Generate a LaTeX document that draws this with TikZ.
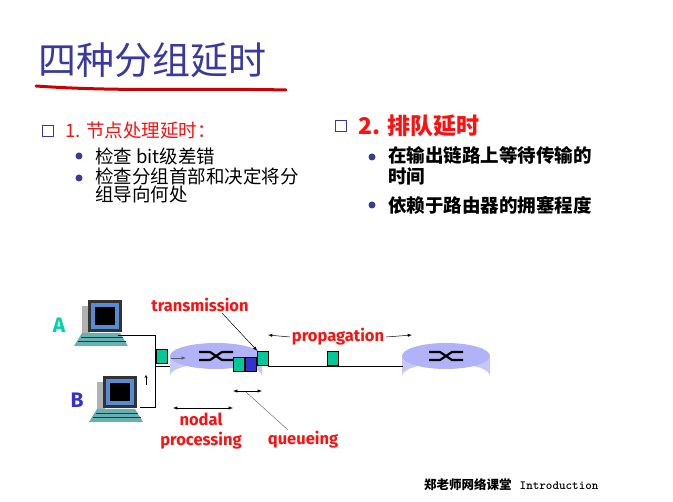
\documentclass[tikz,border=0pt]{standalone}
\usepackage{fontspec}
\setmainfont{Fira Sans}
\newfontfamily\cjk{Noto Sans CJK SC}
\definecolor{ttl}{HTML}{3A3A9E}
\definecolor{rt}{HTML}{C8C8F6}
\definecolor{pk}{HTML}{00C896}
\definecolor{pb}{HTML}{3333CC}
\definecolor{lab}{HTML}{FF1010}
\begin{document}
\begin{tikzpicture}[x=1pt,y=-1pt,
  lbl/.style={text=lab,font=\bfseries\fontsize{16.5}{18}\selectfont,inner sep=0},
  pkt/.style={draw=black,line width=0.4pt,fill=pk,minimum width=11,minimum height=14,inner sep=0},
  dot/.style={circle,fill=ttl,inner sep=0,minimum size=7},
  sq/.style={draw=ttl,line width=1.8pt,minimum size=11,inner sep=0},
  txt/.style={anchor=west,inner sep=0,font=\cjk\fontsize{18.5}{19}\selectfont},
  ar/.style={-latex,line width=0.5pt}]
\useasboundingbox (0,0) rectangle (673,502);
% title
\node[anchor=west,inner sep=0,text=ttl,font=\cjk\fontsize{38}{40}\selectfont] (title) at (38,60) {四种分组延时};
\draw[red!80!black,line width=3pt,line cap=round] (36,86) .. controls (120,92) and (200,88) .. (286,90);
% left column
\node[sq] (s1) at (48,131) {};
\node[txt,text=lab] (t1) at (65,131) {1. 节点处理延时：};
\node[dot] (d1) at (79,156) {};
\node[txt] (t11) at (95,156) {检查 bit级差错};
\node[dot] (d2) at (79,178) {};
\node[txt,align=left,anchor=north west,font=\cjk\fontsize{18.5}{18}\selectfont] (t12) at (95,168) {检查分组首部和决定将分\\组导向何处};
% right column
\node[sq] (s2) at (341,126) {};
\node[txt,text=lab,font=\cjk\bfseries\fontsize{23}{25}\selectfont] (t2) at (358,126) {2. 排队延时};
\node[dot] (d3) at (372,157) {};
\node[txt,align=left,anchor=north west,font=\cjk\bfseries\fontsize{18.5}{21}\selectfont] (t21) at (388,146) {在输出链路上等待传输的\\时间};
\node[dot] (d4) at (372,205) {};
\node[txt,font=\cjk\bfseries\fontsize{18.5}{19}\selectfont] (t22) at (388,205) {依赖于路由器的拥塞程度};
% routers
\foreach \n/\cx/\cy/\rx in {r1/216/356/46, r2/446/356/44}{
  \fill[rt] (\cx-\rx,\cy) -- (\cx-\rx,\cy+20) arc[start angle=180,end angle=360,x radius=\rx,y radius=13] -- (\cx+\rx,\cy) -- cycle;
  \fill[rt!85!blue!90] (\cx,\cy) ellipse[x radius=\rx,y radius=13];
  \coordinate (\n) at (\cx,\cy);
  \draw[line width=2.2pt] (\cx-17,\cy-4) -- (\cx-6,\cy-4) -- (\cx+6,\cy+4) -- (\cx+17,\cy+4);
  \draw[line width=2.2pt] (\cx-17,\cy+4) -- (\cx-6,\cy+4) -- (\cx+6,\cy-4) -- (\cx+17,\cy-4);
}
% computers
\foreach \n/\x/\y in {A/80/300, B/95/376}{
  \begin{scope}[shift={(\x,\y)}]
   \fill[gray!60] (2,6) rectangle (10,36);
   \fill[black!80] (8,0) rectangle (42,32);
   \fill[cyan!50!blue!70] (11,3) rectangle (39,29);
   \fill[black] (15,7) rectangle (35,25);
   \fill[teal!60] (2,33) -- (40,33) -- (48,46) -- (-6,46) -- cycle;
   \draw[black!80,line width=0.4pt] (1,37)--(43,37) (-2,41)--(46,41);
  \end{scope}}
\node[text=pk!80!cyan,font=\bfseries\fontsize{21}{22}\selectfont,inner sep=0] (la) at (59,325) {A};
\node[text=pb,font=\bfseries\fontsize{21}{22}\selectfont,inner sep=0] (lb) at (77,400) {B};
% access lines
\coordinate (j1) at (155,335); \coordinate (j2) at (155,407); \coordinate (j3) at (170,366);
\draw[line width=0.6pt] (118,335) -- (j1) -- (j2) -- (140,407);
\draw[line width=0.6pt] (155,366) -- (j3);
\draw[-stealth,line width=0.4pt] (146,385) -- (146,375);
\node[pkt] (p0) at (162,356) {};
\draw[ar,gray!70!black] (171,358) -- (186,358);
% queue + link
\node[pkt] (q1) at (239,364) {};
\node[pkt,fill=pb] (q2) at (251,364) {};
\node[pkt] (q3) at (263,358) {};
\coordinate (l2) at (403,366);
\draw[line width=0.6pt] (268,366) -- (l2);
\node[pkt] (p2) at (333,358) {};
% labels
\node[lbl] (ltr) at (200,305) {transmission};
\draw[ar] (222,313) -- (q3.north west);
\node[lbl] (lpr) at (338,337) {propagation};
\coordinate (pl) at (268,335); \coordinate (pr) at (412,335);
\draw[ar] ([xshift=-2]lpr.west) -- (pl);
\draw[ar] ([xshift=2]lpr.east) -- (pr);
\coordinate (n1) at (173,408); \coordinate (n2) at (233,408);
\draw[latex-latex,line width=0.5pt] (n1) -- (n2);
\node[lbl,align=center,font=\bfseries\fontsize{16.5}{20}\selectfont] (lnp) at (201,431) {nodal\\processing};
\coordinate (qa) at (233,391); \coordinate (qb) at (262,391);
\draw[latex-latex,line width=0.5pt] (qa) -- (qb);
\node[lbl] (lq) at (303,440) {queueing};
\draw[line width=0.4pt,gray!70!black] (246,392) -- (288,430);
% footer
\node[anchor=west,inner sep=0,font=\cjk\bfseries\fontsize{12.5}{14}\selectfont] (ft) at (424,485) {郑老师网络课堂\hspace{8pt}{\ttfamily\bfseries Introduction}};
\end{tikzpicture}
\end{document}
